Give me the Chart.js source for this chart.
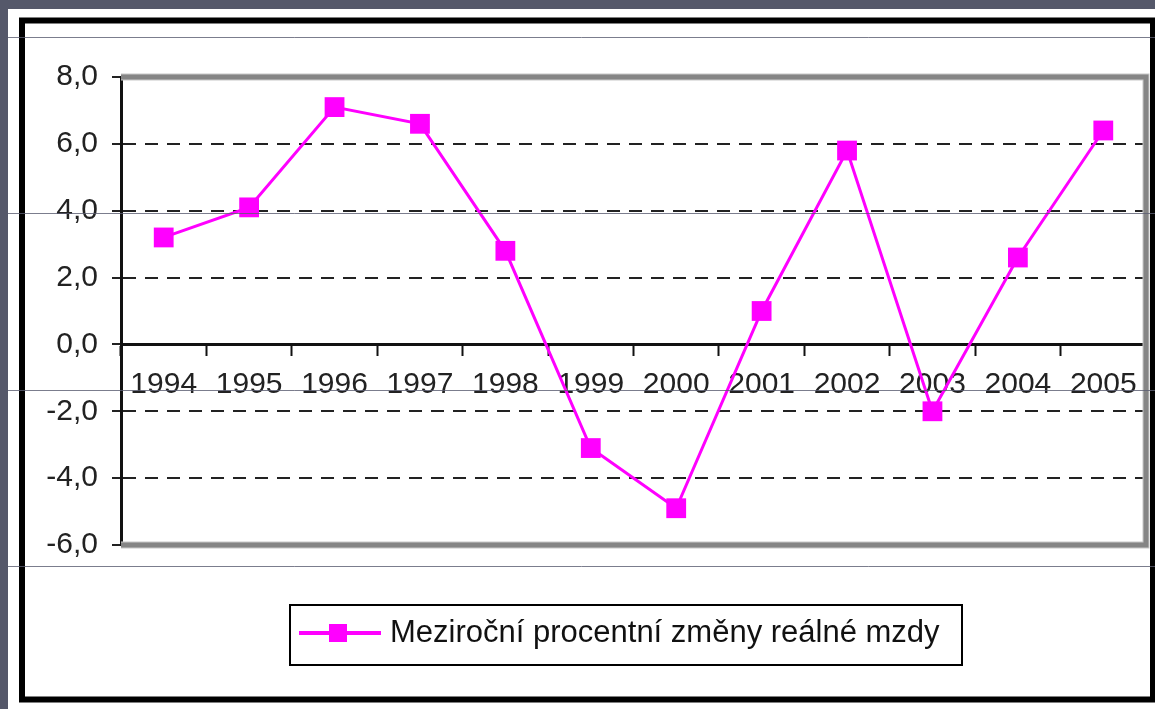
<!DOCTYPE html>
<html lang="cs">
<head>
    <meta charset="UTF-8">
    <title>Meziroční procentní změny reálné mzdy</title>
    <script src="https://cdn.jsdelivr.net/npm/chart.js"></script>
    <style>
        html, body { margin: 0; padding: 0; background: #55586a; }
        #wrap { width: 1155px; height: 709px; position: relative; }
    </style>
</head>
<body>
    <div id="wrap">
        <canvas id="myChart" width="1155" height="709"></canvas>
    </div>

    <script>
        // Data
        const years = ['1994', '1995', '1996', '1997', '1998', '1999', '2000', '2001', '2002', '2003', '2004', '2005'];
        const realWageChange = [3.2, 4.1, 7.1, 6.6, 2.8, -3.1, -4.9, 1.0, 5.8, -2.0, 2.6, 6.4];
        const seriesLabel = 'Meziroční procentní změny reálné mzdy';
        const yMin = -6;
        const yMax = 8;
        const yStep = 2;

        const FONT = '"Liberation Sans", Arial, sans-serif';
        const MAGENTA = '#ff00ff';

        // slide background, white card, black frame
        const backgroundPlugin = {
            id: 'slideBackground',
            beforeDraw(chart) {
                const c = chart.ctx;
                c.save();
                c.fillStyle = '#55586a';
                c.fillRect(0, 0, chart.width, chart.height);
                c.fillStyle = '#ffffff';
                c.fillRect(8, 9, chart.width - 8, chart.height - 9);
                c.strokeStyle = '#000000';
                c.lineWidth = 6;
                c.strokeRect(22, 20.5, 1131, 679);
                c.restore();
            }
        };

        // grey frame on top/right/bottom of the plot area
        const plotFramePlugin = {
            id: 'plotFrame',
            beforeDatasetsDraw(chart) {
                const a = chart.chartArea;
                const c = chart.ctx;
                c.save();
                c.strokeStyle = '#c8c8c8';
                c.lineWidth = 7;
                c.beginPath();
                c.moveTo(a.left, a.top);
                c.lineTo(a.right, a.top);
                c.lineTo(a.right, a.bottom);
                c.lineTo(a.left, a.bottom);
                c.stroke();
                c.strokeStyle = '#858585';
                c.lineWidth = 5;
                c.stroke();
                c.restore();
            }
        };

        // legend box + faint slide guide lines
        const legendPlugin = {
            id: 'boxLegend',
            afterDraw(chart) {
                const c = chart.ctx;
                const ds = chart.data.datasets[0];
                c.save();
                c.strokeStyle = '#000000';
                c.lineWidth = 2;
                c.strokeRect(290, 605, 672, 60);

                c.strokeStyle = ds.borderColor;
                c.lineWidth = 4;
                c.beginPath();
                c.moveTo(299, 633);
                c.lineTo(381, 633);
                c.stroke();
                c.fillStyle = ds.pointBackgroundColor;
                c.fillRect(329, 624, 18, 18);

                c.fillStyle = '#111111';
                c.font = '31px ' + FONT;
                c.textBaseline = 'middle';
                c.textAlign = 'left';
                c.fillText(ds.label, 390, 633);

                c.strokeStyle = 'rgba(90, 92, 112, 0.8)';
                c.lineWidth = 1;
                [37, 213, 390, 566].forEach(y => {
                    c.beginPath();
                    c.moveTo(8, y + 0.5);
                    c.lineTo(chart.width, y + 0.5);
                    c.stroke();
                });
                c.restore();
            }
        };

        const ctx = document.getElementById('myChart').getContext('2d');
        const myChart = new Chart(ctx, {
            type: 'line',
            data: {
                labels: years,
                datasets: [{
                    label: seriesLabel,
                    data: realWageChange,
                    borderColor: MAGENTA,
                    backgroundColor: MAGENTA,
                    borderWidth: 3,
                    tension: 0,
                    pointStyle: 'rect',
                    pointRadius: 14,
                    pointHoverRadius: 14,
                    pointBackgroundColor: MAGENTA,
                    pointBorderWidth: 0
                }]
            },
            options: {
                responsive: false,
                animation: false,
                layout: {
                    autoPadding: false,
                    padding: { top: 77, right: 9, bottom: 164, left: 10 }
                },
                plugins: {
                    legend: { display: false },
                    tooltip: { enabled: false }
                },
                scales: {
                    x: {
                        type: 'category',
                        position: { y: 0 },
                        offset: true,
                        afterFit(scale) {
                            scale.paddingLeft = 0;
                            scale.paddingRight = 0;
                        },
                        grid: {
                            offset: true,
                            drawOnChartArea: false,
                            drawTicks: true,
                            tickLength: 10,
                            tickColor: '#111111',
                            tickWidth: 2
                        },
                        border: { display: true, color: '#111111', width: 3 },
                        ticks: {
                            color: '#222222',
                            font: { family: FONT, size: 30 },
                            padding: 12,
                            maxRotation: 0,
                            autoSkip: false
                        }
                    },
                    y: {
                        min: yMin,
                        max: yMax,
                        afterFit(scale) { scale.width = 111; },
                        grid: {
                            color(context) {
                                const v = context.tick ? context.tick.value : null;
                                if (v === 0 || v === yMin || v === yMax) return 'rgba(0,0,0,0)';
                                return '#222222';
                            },
                            lineWidth: 2,
                            tickColor: '#222222',
                            tickWidth: 2,
                            tickLength: 9
                        },
                        border: { display: true, color: '#111111', width: 3, dash: [13, 9] },
                        ticks: {
                            stepSize: yStep,
                            color: '#222222',
                            font: { family: FONT, size: 30 },
                            padding: 14,
                            callback: v => v.toFixed(1).replace('.', ',')
                        }
                    }
                }
            },
            plugins: [backgroundPlugin, plotFramePlugin, legendPlugin]
        });
    </script>
</body>
</html>
